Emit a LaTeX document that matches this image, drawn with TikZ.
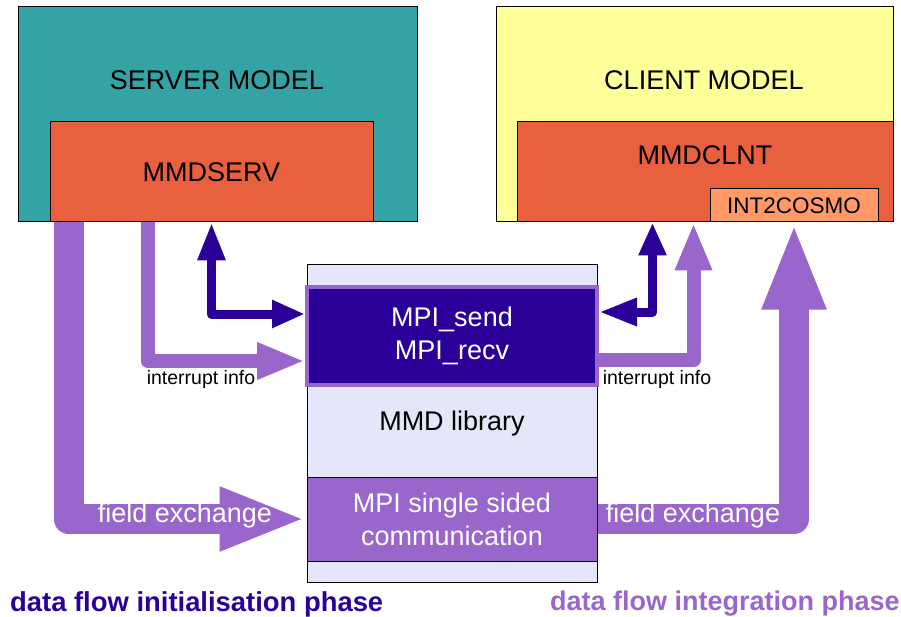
\documentclass[tikz,border=0pt]{standalone}
\usepackage{fontspec}
\setmainfont{Liberation Sans}
\usepackage{tikz}
\usetikzlibrary{arrows.meta, positioning, calc}

\definecolor{servteal}{HTML}{33A3A6}
\definecolor{mmdred}{HTML}{E9603F}
\definecolor{clntyellow}{HTML}{FFFF99}
\definecolor{cosmoorange}{HTML}{FF9966}
\definecolor{liblav}{HTML}{E6E6FA}
\definecolor{mpiindigo}{HTML}{2A0099}
\definecolor{flowpurple}{HTML}{9966CC}

\begin{document}
\begin{tikzpicture}[x=1pt, y=-1pt,
    box/.style={draw, line width=1pt, inner sep=0pt, align=center, font=\fontsize{27}{33}\selectfont},
    bigtext/.style={font=\fontsize{27}{33}\selectfont},
    smalltext/.style={font=\fontsize{19.5}{23}\selectfont},
    phasetext/.style={font=\fontsize{27.4}{33}\selectfont\bfseries, inner sep=0pt, anchor=west},
    bigflow/.style={line width=30pt, flowpurple, line join=round, -{Triangle[length=87pt,width=58pt]}},
    intflow/.style={line width=14pt, flowpurple, line join=round, -{Triangle[length=48pt,width=34pt]}},
    ctrlflow/.style={line width=9pt, mpiindigo, line join=round,
        {Triangle[length=38pt,width=26pt]}-{Triangle[length=33pt,width=26pt]}}]
    \useasboundingbox (0,0) rectangle (901,617);

    % models
    \node[box, fill=servteal, minimum width=399pt, minimum height=215pt] (server) at (217.5,114.5) {};
    \node[box, fill=mmdred, minimum width=323pt, minimum height=100pt] (serv) at (211.5,172) {MMDSERV};
    \node[bigtext] (servtitle) at (217,80) {SERVER MODEL};

    \node[box, fill=clntyellow, minimum width=397pt, minimum height=215pt] (client) at (694.5,114.5) {};
    \node[box, fill=mmdred, minimum width=376pt, minimum height=100pt] (clnt) at (705,172) {};
    \node[bigtext] (clnttitle) at (704,80) {CLIENT MODEL};
    \node[bigtext] (clnttext) at (705,155) {MMDCLNT};
    \node[box, fill=cosmoorange, minimum width=168pt, minimum height=33pt,
        font=\fontsize{22.5}{27}\selectfont] (cosmo) at (794,205.5) {INT2COSMO};

    % library
    \node[box, fill=liblav, minimum width=290pt, minimum height=317pt] (lib) at (452,423.5) {MMD library};
    \node[box, fill=mpiindigo, draw=flowpurple, line width=4pt, text=white,
        minimum width=290pt, minimum height=98pt] (mpi) at (452,336) {MPI\_send\\MPI\_recv};
    \node[box, fill=flowpurple, text=white, minimum width=290pt, minimum height=84pt] (oss) at (452,519)
        {MPI single sided\\communication};

    % data flow
    \draw[bigflow] ([xshift=19pt]serv.south west) |- (oss.west);
    \draw[bigflow] (oss.east) -| (cosmo.south);
    \draw[intflow] ([xshift=98pt]serv.south west) |- ([yshift=-25pt]mpi.west);
    \draw[intflow] ([yshift=-24pt]mpi.east) -| ([xshift=177pt]clnt.south west);
    \draw[ctrlflow] (serv.south) |- ([yshift=22pt]mpi.west);
    \draw[ctrlflow] ([yshift=24pt]mpi.east) -| ([xshift=136pt]clnt.south west);

    \node[bigtext, text=white] (fxleft) at (185,516) {field exchange};
    \node[bigtext, text=white] (fxright) at (693,516) {field exchange};
    \node[smalltext] (intleft) at (201,379) {interrupt info};
    \node[smalltext] (intright) at (657,379) {interrupt info};

    \node[phasetext, text=mpiindigo] (initphase) at (10,604) {data flow initialisation phase};
    \node[phasetext, text=flowpurple, font=\fontsize{27}{33}\selectfont\bfseries] (intphase) at (550,604)
        {data flow integration phase};
\end{tikzpicture}
\end{document}
